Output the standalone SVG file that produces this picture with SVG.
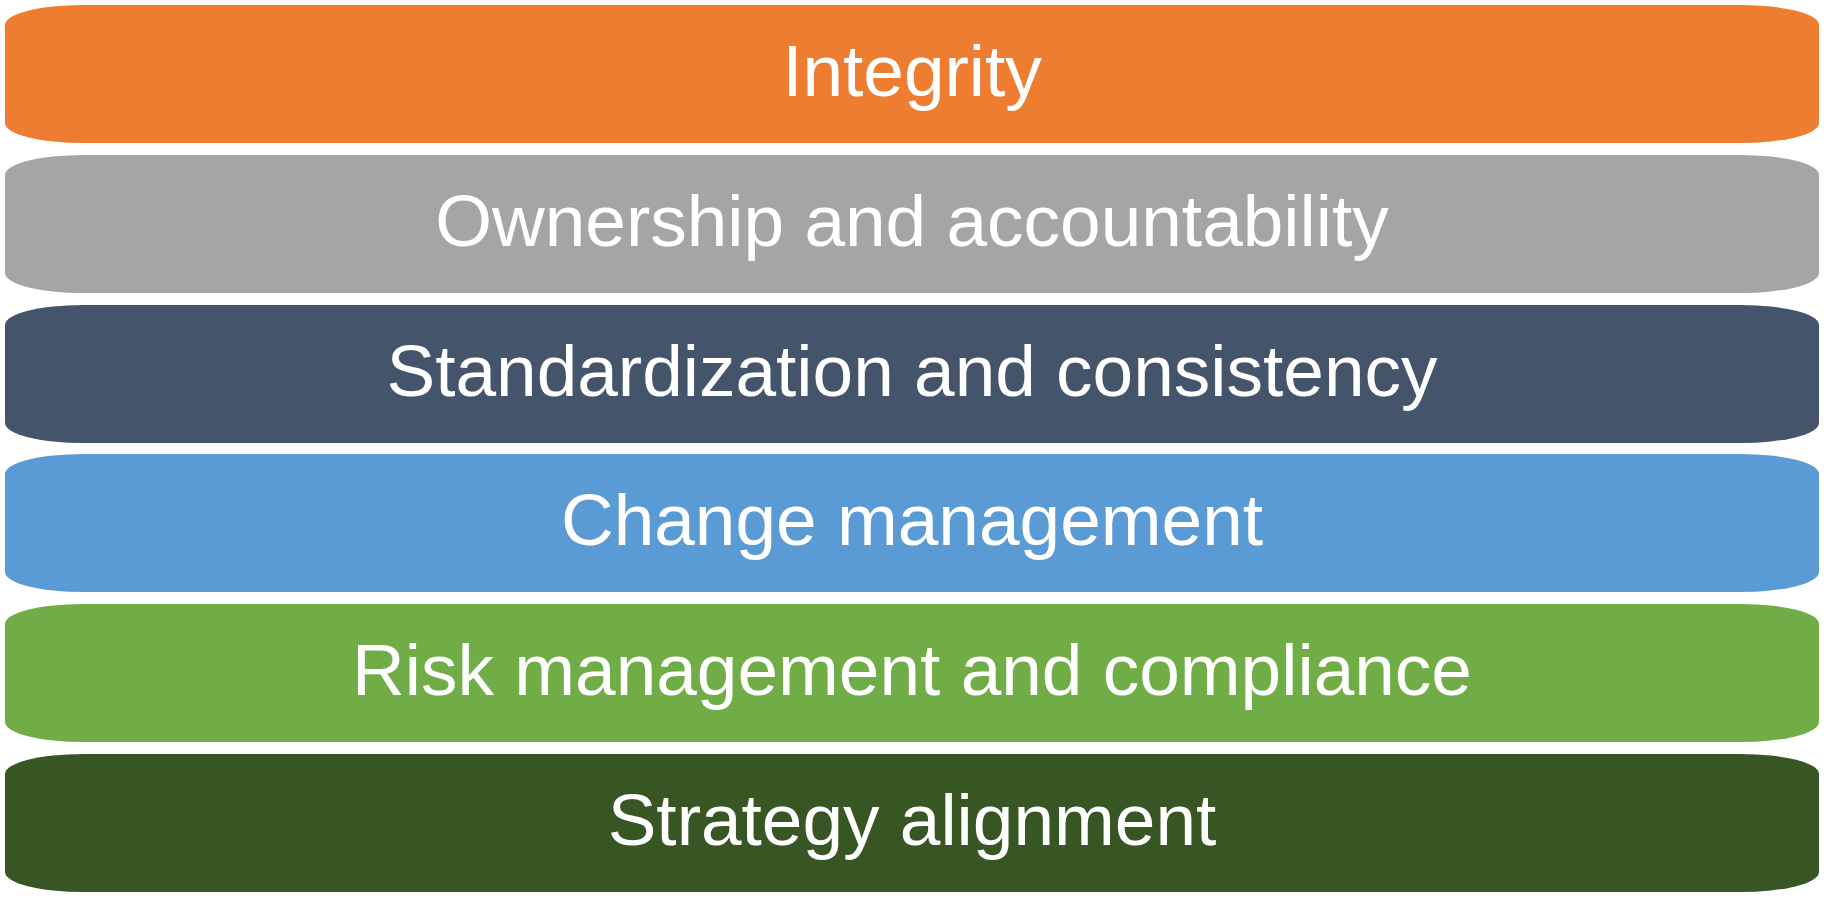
<svg xmlns="http://www.w3.org/2000/svg" width="1824" height="907" viewBox="0 0 1824 907">
<style>
.band{stroke:none}
.lbl{font-family:"Liberation Sans",Arial,sans-serif;font-size:73px;fill:#FFFFFF;text-anchor:middle}
</style>
<rect width="1824" height="907" fill="#FFFFFF"/>
<g id="integrity"><rect class="band" x="5" y="5" width="1814" height="138" rx="78" ry="20" fill="#ED7D31"/><text class="lbl" x="912" y="96">Integrity</text></g>
<g id="ownership"><rect class="band" x="5" y="155" width="1814" height="138" rx="78" ry="20" fill="#A5A5A5"/><text class="lbl" x="912" y="246">Ownership and accountability</text></g>
<g id="standardization"><rect class="band" x="5" y="305" width="1814" height="138" rx="78" ry="20" fill="#44546A"/><text class="lbl" x="912" y="396">Standardization and consistency</text></g>
<g id="change"><rect class="band" x="5" y="454" width="1814" height="138" rx="78" ry="20" fill="#5B9BD5"/><text class="lbl" x="912" y="545">Change management</text></g>
<g id="risk"><rect class="band" x="5" y="604" width="1814" height="138" rx="78" ry="20" fill="#70AD47"/><text class="lbl" x="912" y="695">Risk management and compliance</text></g>
<g id="strategy"><rect class="band" x="5" y="754" width="1814" height="138" rx="78" ry="20" fill="#375623"/><text class="lbl" x="912" y="845">Strategy alignment</text></g>
<g id="connectors"></g>
</svg>
